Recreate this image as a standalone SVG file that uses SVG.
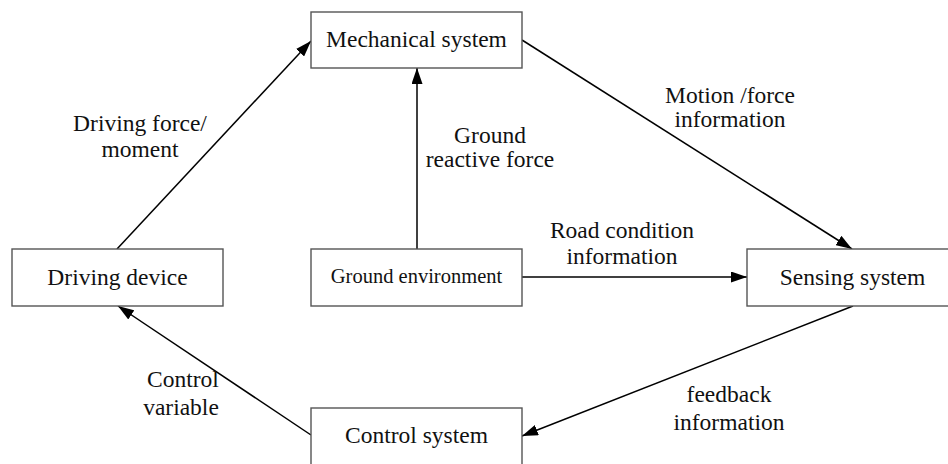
<svg xmlns="http://www.w3.org/2000/svg" width="948" height="464" viewBox="0 0 948 464">
<defs>
<marker id="arr" viewBox="0 0 16 11" refX="16" refY="5.5" markerWidth="16" markerHeight="11" markerUnits="userSpaceOnUse" orient="auto">
<path d="M0,0 L16,5.5 L0,11 z" fill="#000"/>
</marker>
<style>
.box{fill:#fff;stroke:#555;stroke-width:1.4}
.t{font-family:"Liberation Serif","Times New Roman",serif;font-size:23.5px;fill:#111;text-anchor:middle}
.ts{font-size:20.5px}
.c{stroke:#000;stroke-width:1.5;fill:none;marker-end:url(#arr)}
</style>
</defs>
<rect width="948" height="464" fill="#fff"/>
<g id="connectors">
<path class="c" d="M117,249 L311,41"/>
<path class="c" d="M417,249 L417,68"/>
<path class="c" d="M522,40 L852,249"/>
<path class="c" d="M522,277 L747,277"/>
<path class="c" d="M853,306 L522,436"/>
<path class="c" d="M311,435 L118,306"/>
</g>
<g id="mechanical">
<rect class="box" x="311" y="12" width="211" height="56"/>
<text class="t" x="416.5" y="47">Mechanical system</text>
</g>
<g id="driving">
<rect class="box" x="12" y="249" width="211" height="57"/>
<text class="t" x="117.5" y="285">Driving device</text>
</g>
<g id="ground">
<rect class="box" x="311" y="249" width="211" height="57"/>
<text class="t ts" x="416.5" y="283">Ground environment</text>
</g>
<g id="sensing">
<rect class="box" x="747" y="249" width="211" height="57"/>
<text class="t" x="852.5" y="285">Sensing system</text>
</g>
<g id="control">
<rect class="box" x="311" y="408" width="211" height="57"/>
<text class="t" x="416.5" y="443">Control system</text>
</g>
<g id="labels">
<text class="t" x="140" y="131">Driving force/</text>
<text class="t" x="140" y="157">moment</text>
<text class="t" x="490" y="143">Ground</text>
<text class="t" x="490" y="167">reactive force</text>
<text class="t" x="730" y="103">Motion /force</text>
<text class="t" x="730" y="127">information</text>
<text class="t" x="622" y="238">Road condition</text>
<text class="t" x="622" y="264">information</text>
<text class="t" x="729" y="402">feedback</text>
<text class="t" x="729" y="430">information</text>
<text class="t" x="183" y="387">Control</text>
<text class="t" x="181" y="415">variable</text>
</g>
</svg>
